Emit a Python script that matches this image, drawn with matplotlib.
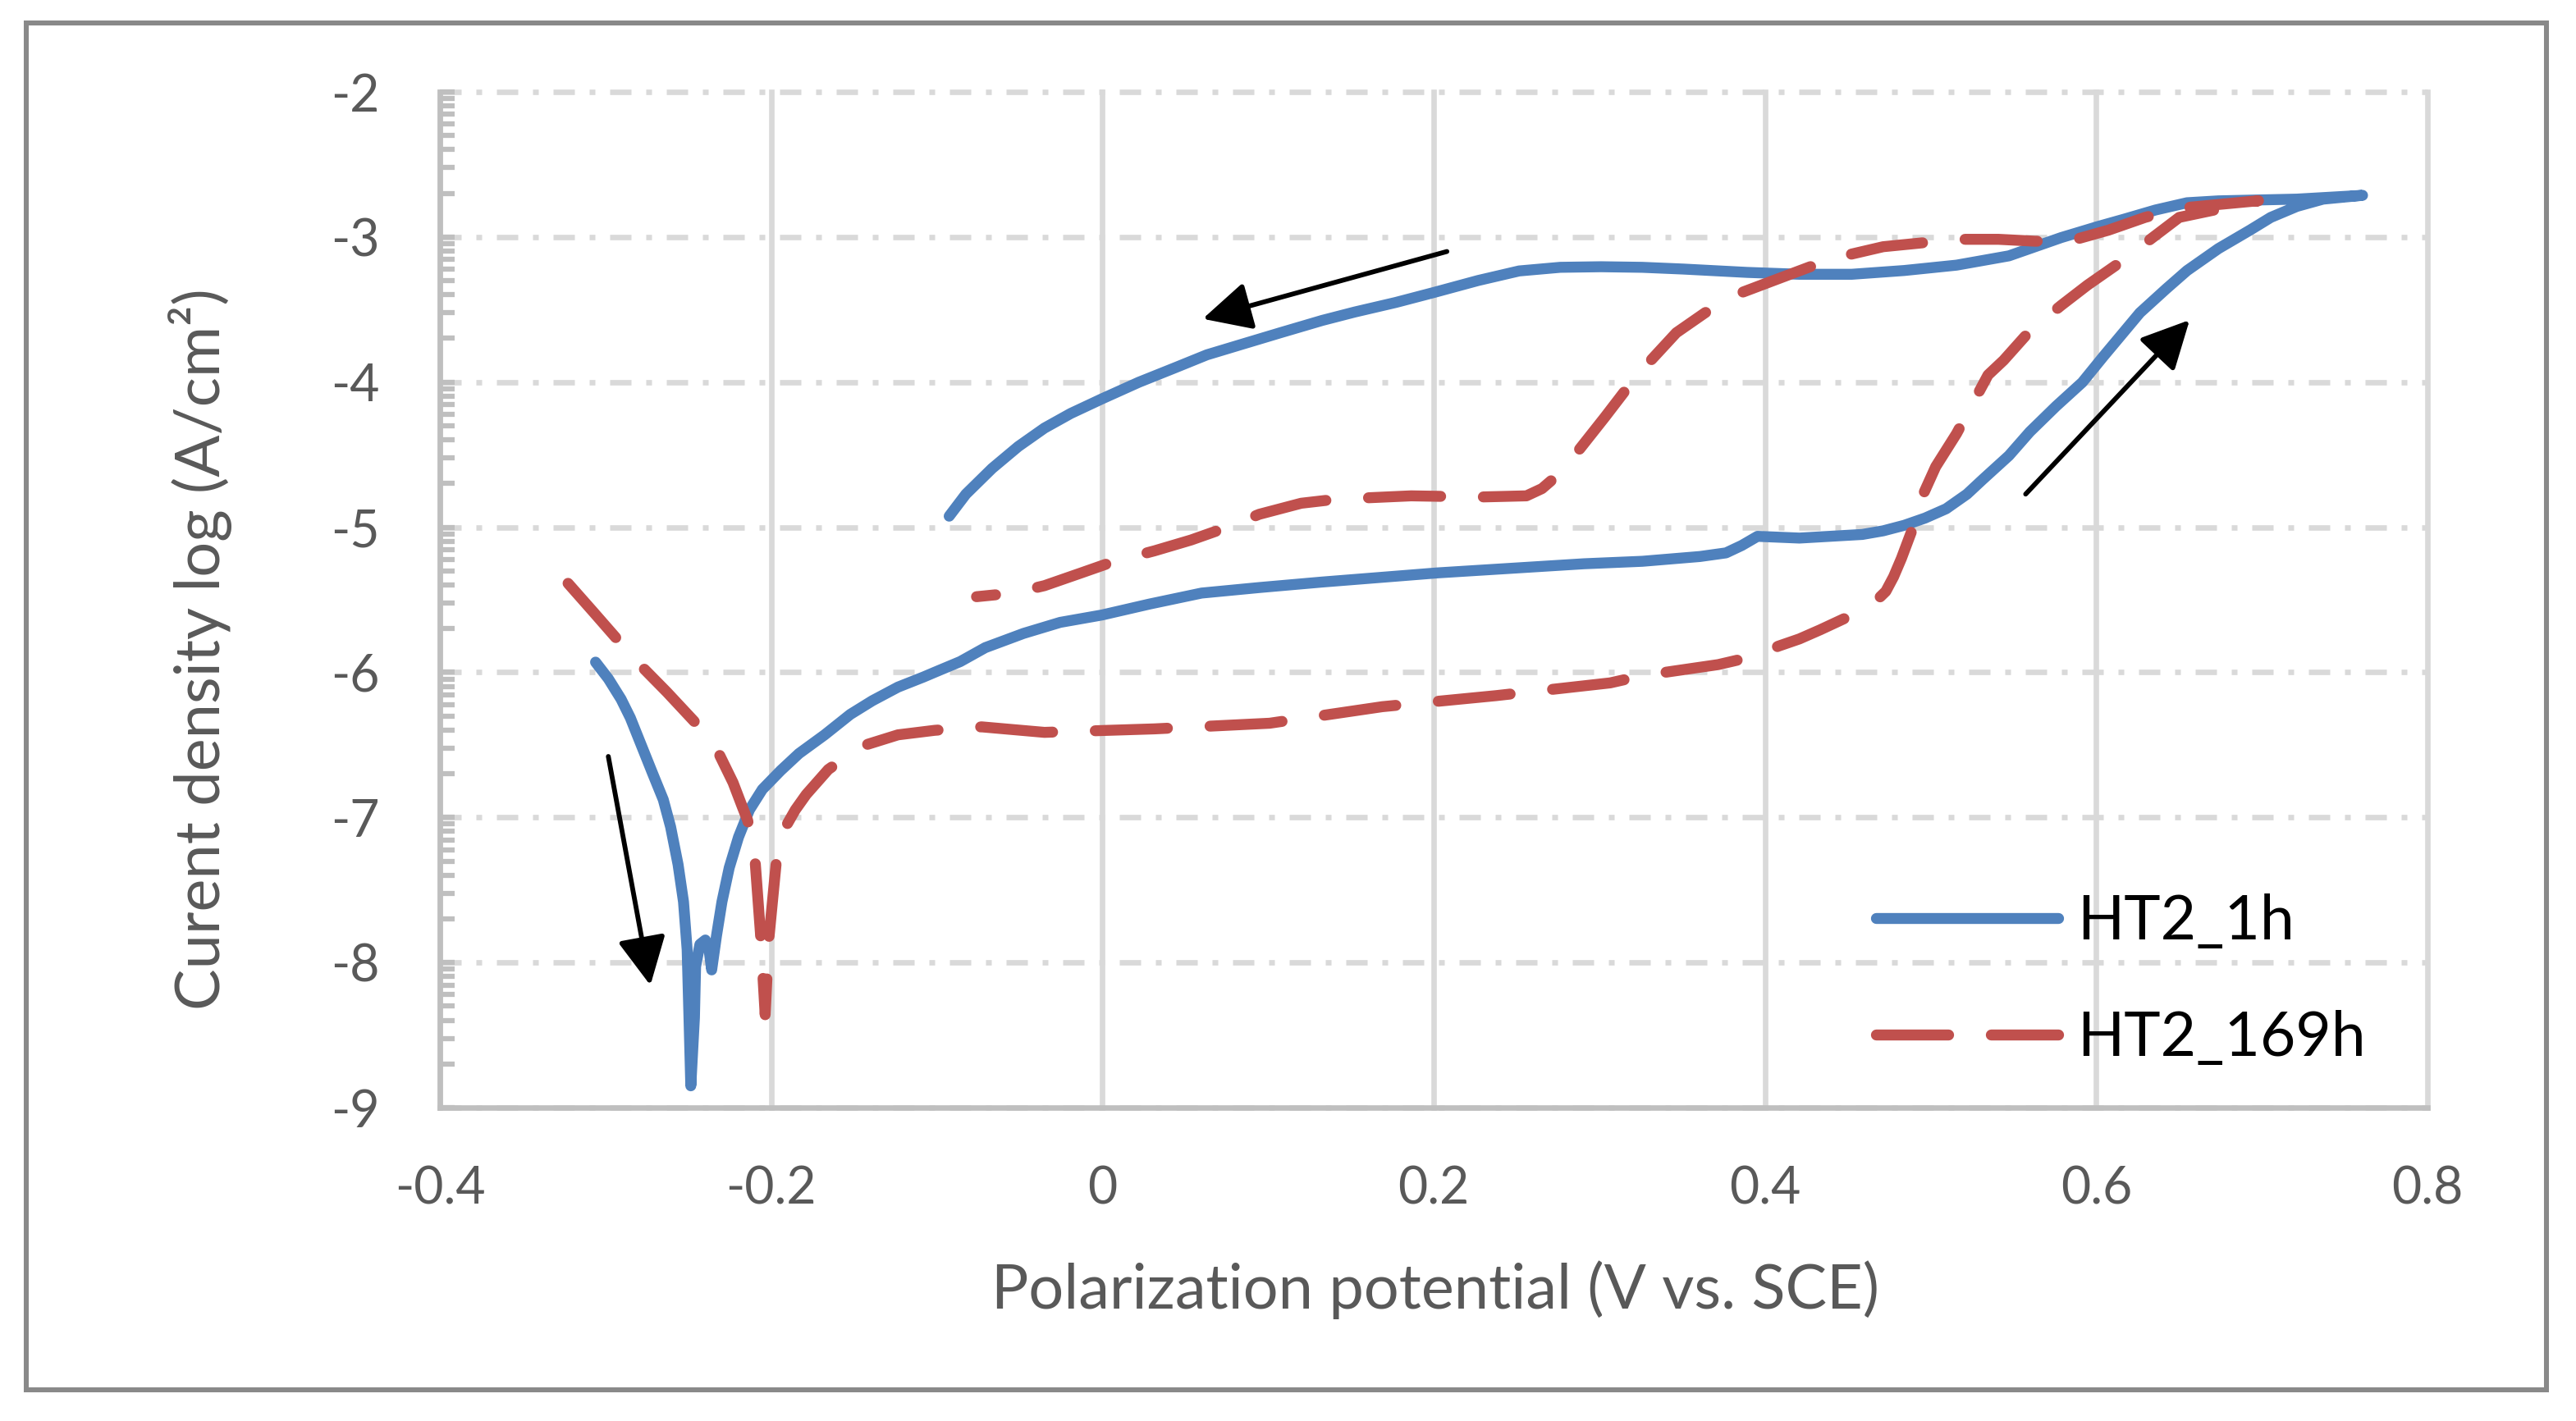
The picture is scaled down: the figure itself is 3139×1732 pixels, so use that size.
import numpy as np
import matplotlib.pyplot as plt
from matplotlib.patches import Rectangle

plt.rcParams['font.family'] = ['Lato', 'DejaVu Sans']
plt.rcParams['axes.unicode_minus'] = False

# HT2_1h : forward scan (cathodic -> anodic) then reverse scan
e_1h = [-0.306, -0.2983, -0.2906, -0.285, -0.2784, -0.2718, -0.2651, -0.2607,
        -0.2562, -0.2529, -0.2507, -0.2496, -0.2485, -0.2463, -0.2456, -0.243,
        -0.2397, -0.2375, -0.2359, -0.233, -0.2297, -0.2253, -0.2197, -0.2131,
        -0.2053, -0.1943, -0.1832, -0.1677, -0.1522, -0.1389, -0.1234, -0.1079,
        -0.1013, -0.0858, -0.0707, -0.0476, -0.0255, -0.0002, 0.0283, 0.0599,
        0.0947, 0.1327, 0.2022, 0.2908, 0.326, 0.3608, 0.3765, 0.386, 0.3955,
        0.4208, 0.4588, 0.4714, 0.4841, 0.4967, 0.5094, 0.522, 0.5315, 0.5473,
        0.5599, 0.5758, 0.5916, 0.6042, 0.6264, 0.6422, 0.6548, 0.6738, 0.6928,
        0.7054, 0.7212, 0.737, 0.7608,
        0.7212, 0.6738, 0.6548, 0.6358, 0.6169, 0.601, 0.5789, 0.5473, 0.5157,
        0.4841, 0.4524, 0.4208, 0.3892, 0.3507, 0.3259, 0.3011, 0.2764, 0.2516,
        0.2268, 0.2006, 0.1772, 0.1524, 0.1327, 0.1074, 0.0852, 0.0631, 0.0441,
        0.022, -0.0002, -0.0191, -0.035, -0.0508, -0.0666, -0.0824, -0.0925]
logi_1h = [-5.93, -6.044, -6.185, -6.314, -6.502, -6.690, -6.878, -7.065,
           -7.324, -7.582, -7.911, -8.38, -8.85, -8.38, -8.028, -7.875,
           -7.845, -7.911, -8.051, -7.817, -7.582, -7.347, -7.136, -6.948,
           -6.807, -6.678, -6.560, -6.431, -6.290, -6.196, -6.102, -6.032,
           -6.0, -5.926, -5.83, -5.732, -5.656, -5.605, -5.530, -5.454,
           -5.416, -5.378, -5.315, -5.252, -5.235, -5.202, -5.177, -5.126, -5.063,
           -5.075, -5.05, -5.025, -4.987, -4.937, -4.873, -4.772, -4.671, -4.507,
           -4.343, -4.166, -4.002, -3.825, -3.522, -3.358, -3.232, -3.080, -2.953,
           -2.865, -2.789, -2.739, -2.713,
           -2.739, -2.751, -2.764, -2.814, -2.877, -2.928, -3.004, -3.13, -3.194,
           -3.231, -3.257, -3.257, -3.244, -3.221, -3.209, -3.205, -3.209, -3.234,
           -3.300, -3.381, -3.451, -3.517, -3.575, -3.660, -3.736, -3.812, -3.90,
           -4.001, -4.115, -4.216, -4.317, -4.444, -4.595, -4.772, -4.924]

# HT2_169h
e_169h = [-0.3226, -0.3072, -0.2928, -0.2773, -0.2629, -0.2463, -0.232, -0.223,
          -0.2175, -0.2142, -0.2109, -0.2098, -0.2065, -0.2036, -0.2014, -0.197,
          -0.1943, -0.191, -0.1854, -0.1788, -0.1655, -0.1456, -0.1234, -0.1013,
          -0.0729, -0.035, 0.0314, 0.101, 0.169, 0.2376, 0.3066, 0.326, 0.3718,
          0.3955, 0.4081, 0.4208, 0.4334, 0.4571, 0.4651, 0.473, 0.4777, 0.4824,
          0.4903, 0.4951, 0.5031, 0.5157, 0.5252, 0.5347, 0.5441, 0.5599, 0.5789,
          0.5947, 0.6153, 0.6327, 0.6501, 0.698,
          0.6738, 0.65, 0.6295, 0.6074, 0.5837, 0.5631, 0.541, 0.5157, 0.4935,
          0.4714, 0.4477, 0.4271, 0.4066, 0.3829, 0.3639, 0.3465, 0.3287, 0.3161,
          0.3034, 0.2876, 0.2718, 0.2654, 0.256, 0.2275, 0.1864, 0.1611, 0.139,
          0.12, 0.0947, 0.0757, 0.0536, 0.0314, 0.0062, -0.0128, -0.035, -0.0539,
          -0.076]
logi_169h = [-5.387, -5.586, -5.774, -5.97, -6.137, -6.34, -6.55, -6.76,
             -6.924, -7.02, -7.183, -7.28, -7.79, -8.36, -7.84, -7.32,
             -7.183, -7.06, -6.948, -6.842, -6.67, -6.51, -6.431, -6.40,
             -6.376, -6.414, -6.39, -6.351, -6.237, -6.161, -6.073, -6.023, -5.947,
             -5.884, -5.82, -5.770, -5.707, -5.581, -5.530, -5.442, -5.341, -5.215,
             -4.975, -4.785, -4.583, -4.355, -4.153, -3.951, -3.85, -3.648, -3.471,
             -3.332, -3.168, -3.016, -2.865, -2.75,
             -2.776, -2.802, -2.865, -2.953, -3.029, -3.029, -3.016, -3.016, -3.042,
             -3.067, -3.13, -3.206, -3.294, -3.396, -3.522, -3.66, -3.88, -4.052,
             -4.241, -4.469, -4.671, -4.734, -4.784, -4.792, -4.784, -4.797, -4.810,
             -4.835, -4.911, -4.999, -5.088, -5.163, -5.239, -5.315, -5.403, -5.454,
             -5.479]

x_ticks = [-0.4, -0.2, 0, 0.2, 0.4, 0.6, 0.8]
x_labels = ['-0.4', '-0.2', '0', '0.2', '0.4', '0.6', '0.8']
y_ticks = [-9, -8, -7, -6, -5, -4, -3, -2]
y_labels = ['-9', '-8', '-7', '-6', '-5', '-4', '-3', '-2']

# scan direction arrows: (tail, head)
arrows = [((-0.2983, -6.58), (-0.2729, -8.157)),
          ((0.208, -3.10), (0.0606, -3.564)),
          ((0.5574, -4.772), (0.6564, -3.572))]

W, H, DPI = 3139, 1732, 300
fig = plt.figure(figsize=(W / DPI, H / DPI), dpi=DPI)
fig.patch.set_facecolor('white')
fig.patches.append(Rectangle((32 / W, 1 - 1694 / H), (3103 - 32) / W, (1694 - 28) / H,
                             transform=fig.transFigure, fill=False,
                             edgecolor='#898989', lw=1.45))

ax = fig.add_axes([536 / W, 1 - 1350 / H, (2958 - 536) / W, (1350 - 112) / H])
ax.set_axisbelow(True)

ax.plot(e_1h, logi_1h, color='#4F81BD', lw=3.2, solid_capstyle='round',
        solid_joinstyle='round', label='HT2_1h')
ax.plot(e_169h, logi_169h, color='#C0504D', lw=3.2, dashes=(6.6, 3.9),
        dash_capstyle='round', dash_joinstyle='round', label='HT2_169h')

for tail, head in arrows:
    ax.annotate('', xy=head, xytext=tail,
                arrowprops=dict(arrowstyle='-|>,head_length=0.6,head_width=0.3',
                                mutation_scale=20, color='black', lw=1.4,
                                shrinkA=0, shrinkB=0))

ax.set_xlim(-0.4, 0.8)
ax.set_ylim(-9, -2)
ax.set_xticks(x_ticks)
ax.set_xticklabels(x_labels)
ax.set_yticks(y_ticks)
ax.set_yticklabels(y_labels)
minor = [m + np.log10(k) for m in range(-9, -2) for k in range(2, 10)]
ax.set_yticks(minor, minor=True)

ax.tick_params(axis='x', length=0, pad=17, labelsize=15, labelcolor='#595959')
ax.tick_params(axis='y', which='both', direction='in', length=4.3, width=1.5,
               color='#BFBFBF', pad=17.5, labelsize=15, labelcolor='#595959')

ax.grid(axis='y', which='major', color='#D9D9D9', lw=1.6,
        linestyle=(0, (3.9, 2.7, 1.05, 2.7)))
ax.grid(axis='x', which='major', color='#D9D9D9', lw=1.6, linestyle='-')
for gl in ax.get_xgridlines() + ax.get_ygridlines():
    gl.set_clip_on(False)

for s in ['top', 'right']:
    ax.spines[s].set_visible(False)
for s in ['left', 'bottom']:
    ax.spines[s].set_color('#BFBFBF')
    ax.spines[s].set_linewidth(1.6)

fig.text(1749 / W, 1 - 1595 / H, 'Polarization potential (V vs. SCE)',
         ha='center', va='baseline', fontsize=18.2, color='#595959')
fig.text(268 / W, 1 - 791 / H, 'Curent density log (A/cm²)', rotation=90,
         rotation_mode='anchor', ha='center', va='baseline', fontsize=18.2,
         color='#595959')

ax.legend(loc='upper left', bbox_to_anchor=((2286 - 536) / 2422, (1350 - 1089) / 1238),
          frameon=False, fontsize=18, handlelength=2.96, handletextpad=0.31,
          borderpad=0, borderaxespad=0, labelspacing=0.97)

fig.savefig('out.png', dpi=DPI)
